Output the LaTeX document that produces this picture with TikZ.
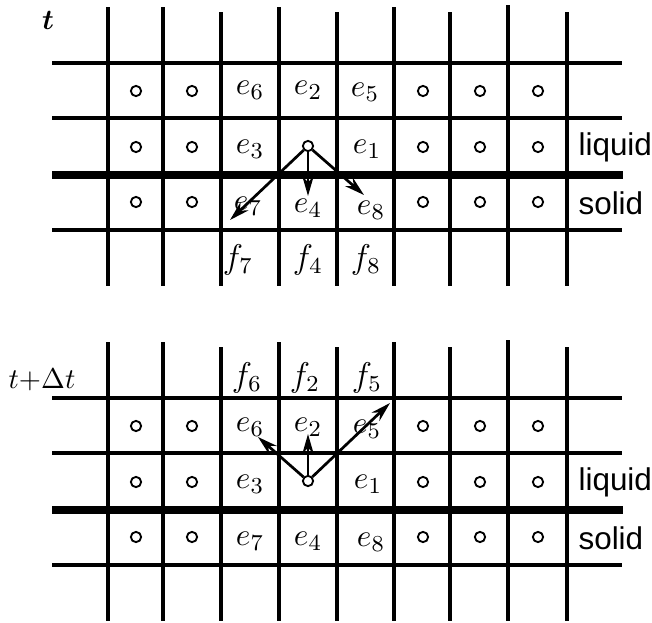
\documentclass[tikz,border=0pt]{standalone}
\usepackage{fontspec}
\newfontfamily\phasefont{Liberation Sans}
\usepackage{amsmath}
\usepackage{bm}
\usepackage{tikz}
\usetikzlibrary{arrows.meta}

\begin{document}
\begin{tikzpicture}[x=0.35pt,y=-0.35pt,
    gridline/.style={line width=1.1pt},
    interface/.style={line width=2.8pt},
    site/.style={circle,draw,line width=0.65pt,inner sep=0pt,minimum size=3.6pt},
    elab/.style={inner sep=0pt,font=\fontsize{11}{13}\selectfont},
    flab/.style={inner sep=0pt,font=\fontsize{12}{14}\selectfont},
    tlab/.style={inner sep=0pt,font=\fontsize{10}{12}\selectfont},
    phase/.style={anchor=west,inner sep=0pt,font=\phasefont\fontsize{11}{13}\selectfont},
    vel/.style={line width=0.95pt,-{Stealth[length=7pt,width=4pt]}}]
    \useasboundingbox (0,0) rectangle (652,622);

    % Draw both lattices, the second one shifted down
    \foreach \oy in {0,335} {
        % vertical grid lines
        \foreach \x/\t in {108/7,163/7,221/12,279/7,337/12,394/7,450/12,508/5,567/12}
            \draw[gridline] (\x,\t+\oy) -- (\x,286+\oy);
        % horizontal grid lines
        \foreach \y in {63,118,230}
            \draw[gridline] (52,\y+\oy) -- (622,\y+\oy);
        % liquid/solid interface
        \draw[interface] (52,175+\oy) -- (623,175+\oy);
        % lattice sites away from the interface cell
        \foreach \x in {136,192,423,480,538}
            \foreach \y in {91,147,202}
                \node[site] (s-\x-\y-\oy) at (\x,\y+\oy) {};
    }

    % Time labels
    \node[tlab] (tnow) at (48,20) {$\bm{t}$};
    \node[tlab] (tnext) at (42,380) {$t{+}\Delta t$};

    % Phase labels
    \node[phase] (liqtop) at (578,147) {liquid};
    \node[phase] (soltop) at (578,203) {solid};
    \node[phase] (liqbot) at (578,482) {liquid};
    \node[phase] (solbot) at (578,538) {solid};

    % Top lattice: directions at time t
    \node[site] (ctop) at (308,146) {};
    \node[elab] (e6top) at (250,90) {$e_6$};
    \node[elab] (e2top) at (308,90) {$e_2$};
    \node[elab] (e5top) at (365,92) {$e_5$};
    \node[elab] (e3top) at (250,149) {$e_3$};
    \node[elab] (e1top) at (367,149) {$e_1$};
    \node[elab] (e7top) at (248,206) {$e_7$};
    \node[elab] (e4top) at (308,208) {$e_4$};
    \node[elab] (e8top) at (371,210) {$e_8$};
    \node[flab] (f7) at (238,260) {$f_7$};
    \node[flab] (f4) at (308,260) {$f_4$};
    \node[flab] (f8) at (366,260) {$f_8$};

    \coordinate (tip7) at (230,220);
    \coordinate (tip4) at (308,196);
    \coordinate (tip8) at (364,195);
    \draw[vel] (ctop) -- (tip7);
    \draw[vel] (ctop) -- (tip4);
    \draw[vel] (ctop) -- (tip8);

    % Bottom lattice: directions at time t+dt
    \node[site] (cbot) at (308,481) {};
    \node[elab] (e6bot) at (250,427) {$e_6$};
    \node[elab] (e2bot) at (308,427) {$e_2$};
    \node[elab] (e5bot) at (367,429) {$e_5$};
    \node[elab] (e3bot) at (250,484) {$e_3$};
    \node[elab] (e1bot) at (368,484) {$e_1$};
    \node[elab] (e7bot) at (250,541) {$e_7$};
    \node[elab] (e4bot) at (308,541) {$e_4$};
    \node[elab] (e8bot) at (371,542) {$e_8$};
    \node[flab] (f6) at (247,378) {$f_6$};
    \node[flab] (f2) at (305,378) {$f_2$};
    \node[flab] (f5) at (367,378) {$f_5$};

    \coordinate (tip6) at (258,437);
    \coordinate (tip2) at (308,434);
    \coordinate (tip5) at (390,403);
    \draw[vel] (cbot) -- (tip6);
    \draw[vel] (cbot) -- (tip2);
    \draw[vel] (cbot) -- (tip5);
\end{tikzpicture}
\end{document}
